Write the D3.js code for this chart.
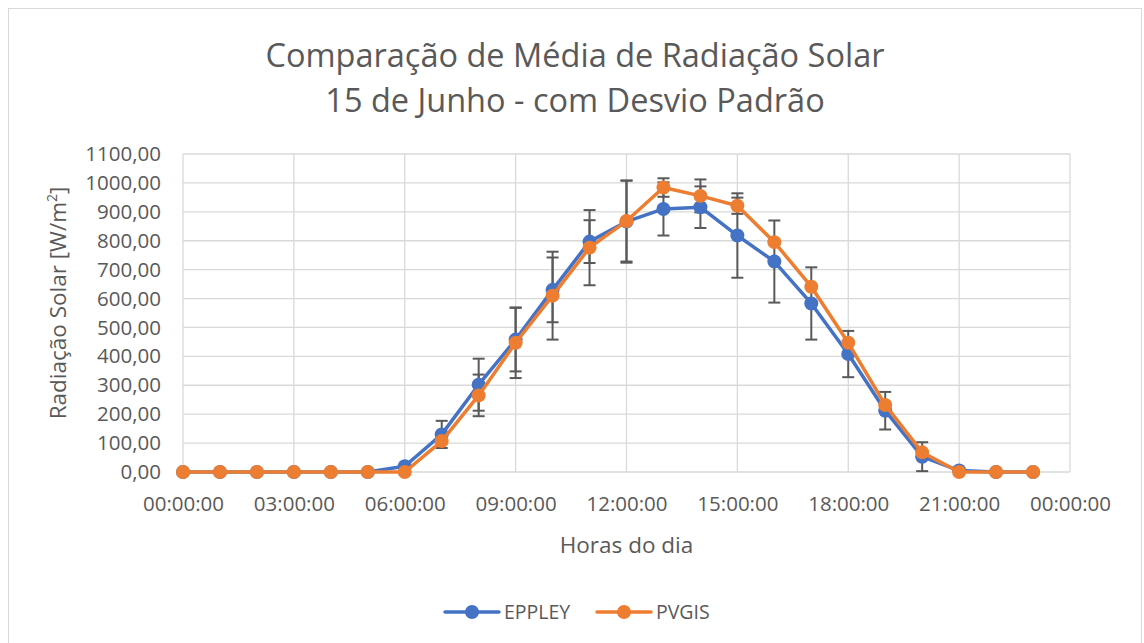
<!DOCTYPE html>
<html>
<head>
<meta charset="utf-8">
<script src="https://cdn.jsdelivr.net/npm/d3@7"></script>
<style>
  body { margin: 0; background: #fff; }
  svg { display: block; }
  text { font-family: "Open Sans", "Noto Sans", sans-serif; fill: #595959; }
</style>
</head>
<body>
<svg id="chart" width="1144" height="643"></svg>
<script>
// Hour of the day (0..23)
const hours = d3.range(0, 24);

// Hourly mean solar radiation [W/m²]
const eppley = [0, 0, 0, 0, 0, 0, 20, 130, 302, 458, 630, 797, 866, 910, 916, 818, 728, 583, 408, 212, 53, 5, 0, 0];
const pvgis  = [0, 0, 0, 0, 0, 0, 0, 107, 265, 447, 610, 776, 868, 984, 955, 921, 795, 641, 447, 232, 68, 0, 0, 0];

// Standard deviation for each hour
const eppleyStd = [0, 0, 0, 0, 0, 0, 0, 47, 90, 110, 112, 74, 142, 92, 72, 146, 142, 125, 80, 65, 50, 0, 0, 0];
const pvgisStd  = [0, 0, 0, 0, 0, 0, 0, 0, 72, 122, 152, 130, 140, 32, 57, 28, 0, 0, 0, 0, 0, 0, 0, 0];

// Axis ticks
const yTicks = d3.range(0, 1101, 100);
const xTicks = [0, 3, 6, 9, 12, 15, 18, 21, 24];

const titleLines = ["Comparação de Média de Radiação Solar", "15 de Junho - com Desvio Padrão"];

const svg = d3.select("#chart");
const plot = { left: 183, right: 1070, top: 154, bottom: 472 };

// Outer chart frame
svg.append("rect")
  .attr("x", 8.5).attr("y", 8.5)
  .attr("width", 1133).attr("height", 640)
  .attr("fill", "#fff").attr("stroke", "#d9d9d9").attr("stroke-width", 1);

const x = d3.scaleLinear().domain([0, 24]).range([plot.left, plot.right]);
const y = d3.scaleLinear().domain([0, 1100]).range([plot.bottom, plot.top]);

// Gridlines
const grid = svg.append("g");
grid.selectAll("line.h").data(yTicks).join("line")
  .attr("x1", plot.left).attr("x2", plot.right)
  .attr("y1", d => y(d)).attr("y2", d => y(d))
  .attr("stroke", "#d9d9d9").attr("stroke-width", 1.3);
grid.selectAll("line.v").data(xTicks).join("line")
  .attr("y1", plot.top).attr("y2", plot.bottom)
  .attr("x1", d => x(d)).attr("x2", d => x(d))
  .attr("stroke", "#d9d9d9").attr("stroke-width", 1.3);

// Y axis labels
const yAxis = d3.axisLeft(y).tickValues(yTicks).tickSize(0).tickPadding(22)
  .tickFormat(d => d3.format(".2f")(d).replace(".", ","));
svg.append("g").attr("transform", `translate(${plot.left},0)`).call(yAxis)
  .call(g => g.select(".domain").remove())
  .call(g => g.selectAll("text").style("font-size", "20.5px").attr("fill", "#595959").style("font-family", "'Open Sans', sans-serif"));

// X axis labels
const fmtTime = h => String(h % 24).padStart(2, "0") + ":00:00";
const xAxis = d3.axisBottom(x).tickValues(xTicks).tickSize(0).tickPadding(24).tickFormat(fmtTime);
svg.append("g").attr("transform", `translate(0,${plot.bottom})`).call(xAxis)
  .call(g => g.select(".domain").remove())
  .call(g => g.selectAll("text").style("font-size", "20.5px").attr("fill", "#595959").style("font-family", "'Open Sans', sans-serif"));

// Axis titles
svg.append("text").attr("x", (plot.left + plot.right) / 2 + 0).attr("y", 553)
  .attr("text-anchor", "middle").style("font-size", "22.5px").text("Horas do dia");
const yt = svg.append("text")
  .attr("transform", `translate(66,${(plot.top + plot.bottom) / 2 - 10}) rotate(-90)`)
  .attr("text-anchor", "middle").style("font-size", "22.5px");
yt.append("tspan").text("Radiação Solar [W/m");
yt.append("tspan").attr("baseline-shift", "super").style("font-size", "14px").text("2");
yt.append("tspan").text("]");

// Title
const title = svg.append("text").attr("text-anchor", "middle").style("font-size", "32.5px");
title.selectAll("tspan").data(titleLines).join("tspan")
  .attr("x", 575).attr("y", (d, i) => 67 + i * 45).text(d => d);

const series = [
  { name: "EPPLEY", values: eppley, std: eppleyStd, color: "#4472C4" },
  { name: "PVGIS", values: pvgis, std: pvgisStd, color: "#ED7D31" }
];

const line = d3.line().x((d, i) => x(hours[i])).y(d => y(d));

// Error bars
series.forEach(s => {
  const g = svg.append("g").attr("stroke", "#595959").attr("stroke-width", 2);
  hours.forEach((h, i) => {
    const sd = s.std[i];
    if (!sd) return;
    const cx = x(h), y1 = y(s.values[i] + sd), y0 = y(Math.max(0, s.values[i] - sd));
    g.append("line").attr("x1", cx).attr("x2", cx).attr("y1", y1).attr("y2", y0);
    g.append("line").attr("x1", cx - 6).attr("x2", cx + 6).attr("y1", y1).attr("y2", y1);
    g.append("line").attr("x1", cx - 6).attr("x2", cx + 6).attr("y1", y0).attr("y2", y0);
  });
});

// Lines and markers
series.forEach(s => {
  svg.append("path").datum(s.values).attr("d", line)
    .attr("fill", "none").attr("stroke", s.color).attr("stroke-width", 3.5)
    .attr("stroke-linejoin", "round");
  svg.append("g").selectAll("circle").data(s.values).join("circle")
    .attr("cx", (d, i) => x(hours[i])).attr("cy", d => y(d)).attr("r", 7)
    .attr("fill", s.color);
});

// Legend
const legend = svg.append("g").attr("transform", "translate(0,612)");
const legendX = [445, 597];
series.forEach((s, i) => {
  const lx = legendX[i];
  legend.append("line").attr("x1", lx).attr("x2", lx + 54).attr("y1", 0).attr("y2", 0)
    .attr("stroke", s.color).attr("stroke-width", 3.5).attr("stroke-linecap", "round");
  legend.append("circle").attr("cx", lx + 27).attr("cy", 0).attr("r", 7).attr("fill", s.color);
  legend.append("text").attr("x", lx + 59).attr("y", 7).style("font-size", "19.5px").text(s.name);
});
</script>
</body>
</html>
